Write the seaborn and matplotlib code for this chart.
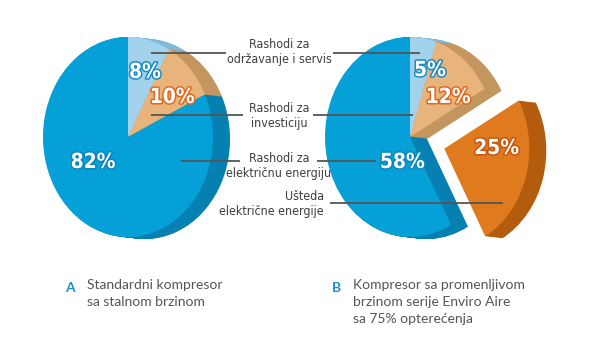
import matplotlib
matplotlib.use("Agg")
import matplotlib.pyplot as plt
import matplotlib.patheffects as pe
from matplotlib import font_manager as fm
import seaborn as sns

# podaci
cats_a = ["odrzavanje", "investicija", "energija"]
values_a = [8, 10, 82]
cats_b = ["odrzavanje", "investicija", "usteda", "energija"]
values_b = [5, 12, 25, 58]
explode_b = [0, 0, 0.42, 0]

label_text = {
    "odrzavanje": "Rashodi za\nodržavanje i servis",
    "investicija": "Rashodi za\ninvesticiju",
    "energija": "Rashodi za\nelektričnu energiju",
    "usteda": "Ušteda\nelektrične energije",
}
caption_a = "Standardni kompresor\nsa stalnom brzinom"
caption_b = "Kompresor sa promenljivom\nbrzinom serije Enviro Aire\nsa 75% opterećenja"

FACE = {"odrzavanje": "#a3d2ec", "investicija": "#e9b47c", "usteda": "#e07a1f", "energija": "#05a0d7"}
SIDE = {"odrzavanje": "#80b8d8", "investicija": "#c3955f", "usteda": "#b35c0e", "energija": "#0580b0"}
STROKE = {"odrzavanje": "#1b8cc6", "investicija": "#e2681d", "usteda": "#c8560f", "energija": "#0a86bd"}

sns.set_theme(style="white")
plt.rcParams["font.family"] = ["Lato", "DejaVu Sans"]

# uzak font ako postoji
narrow_names = [f.name for f in fm.fontManager.ttflist if "Narrow" in f.name]
if "Liberation Sans Narrow" in narrow_names:
    NARROW = dict(family=["Liberation Sans Narrow", "DejaVu Sans"])
else:
    NARROW = dict(family=["DejaVu Sans"], fontstretch="condensed")

W, H = 590, 354
RX, RY = 85, 100
DEPTH_X, DEPTH_Y = 0.2, 0.02

fig = plt.figure(figsize=(W / 100, H / 100), dpi=100)
fig.patch.set_facecolor("white")


def pie_axes(cx, cy, xlim, ylim):
    left = cx + xlim[0] * RX
    top = cy - ylim[1] * RY
    w = (xlim[1] - xlim[0]) * RX
    h = (ylim[1] - ylim[0]) * RY
    return fig.add_axes([left / W, 1 - (top + h) / H, w / W, h / H])


def draw_pie(ax, values, cats, explode, xlim, ylim, label_pos):
    n = 28
    for k in range(n, 0, -1):
        ax.pie(values, colors=[SIDE[c] for c in cats], startangle=90, counterclock=False,
               explode=explode, center=(DEPTH_X * k / n, -DEPTH_Y * k / n),
               wedgeprops=dict(linewidth=0))
    ax.pie(values, colors=[FACE[c] for c in cats], startangle=90, counterclock=False,
           explode=explode, wedgeprops=dict(linewidth=0))
    for v, c, (x, y) in zip(values, cats, label_pos):
        ax.text(x, y, f"{v}%", ha="center", va="center", color="white", fontsize=15,
                fontweight="bold", **NARROW,
                path_effects=[pe.withStroke(linewidth=2.2, foreground=STROKE[c])])
    ax.set_xlim(*xlim)
    ax.set_ylim(*ylim)
    ax.set_aspect("auto")
    ax.axis("off")


ax_a = pie_axes(128, 137, (-1.2, 1.8), (-1.25, 1.15))
draw_pie(ax_a, values_a, cats_a, None, (-1.2, 1.8), (-1.25, 1.15),
         [(0.2, 0.65), (0.52, 0.40), (-0.41, -0.25)])

ax_b = pie_axes(410, 137, (-1.2, 1.9), (-1.25, 1.15))
draw_pie(ax_b, values_b, cats_b, explode_b, (-1.2, 1.9), (-1.25, 1.15),
         [(0.235, 0.67), (0.45, 0.40), (1.02, -0.11), (-0.09, -0.25)])

# oznake i linije
ov = fig.add_axes([0, 0, 1, 1])
ov.set_xlim(0, W)
ov.set_ylim(H, 0)
ov.axis("off")

line_kw = dict(color="#555555", lw=1.3, solid_capstyle="butt")
leaders = [
    ("odrzavanje", 52.5, [(151, 226), (333, 420)], 53),
    ("investicija", 115.5, [(151, 243), (313, 413)], 115),
    ("energija", 166, [(181, 240), (317, 376)], 161),
]
for cat, ty, segs, ly in leaders:
    ov.text(279, ty, label_text[cat], ha="center", va="center", fontsize=8.9,
            color="#3f3f3f", linespacing=1.2, **NARROW)
    for x0, x1 in segs:
        ov.plot([x0, x1], [ly, ly], **line_kw)
ov.text(324, 204, label_text["usteda"], ha="right", va="center", fontsize=8.9,
        color="#3f3f3f", linespacing=1.2, multialignment="right", **NARROW)
ov.plot([330, 503], [203, 203], **line_kw)

for letter, lx, tx, cap in [("A", 65, 87, caption_a), ("B", 332, 353, caption_b)]:
    ov.text(lx, 288, letter, ha="left", va="center", fontsize=10, fontweight="bold",
            color="#1a8fd0")
    ov.text(tx, 279, cap, ha="left", va="top", fontsize=10, color="#555555",
            linespacing=1.5)

fig.savefig("out.png", dpi=100, facecolor="white")
